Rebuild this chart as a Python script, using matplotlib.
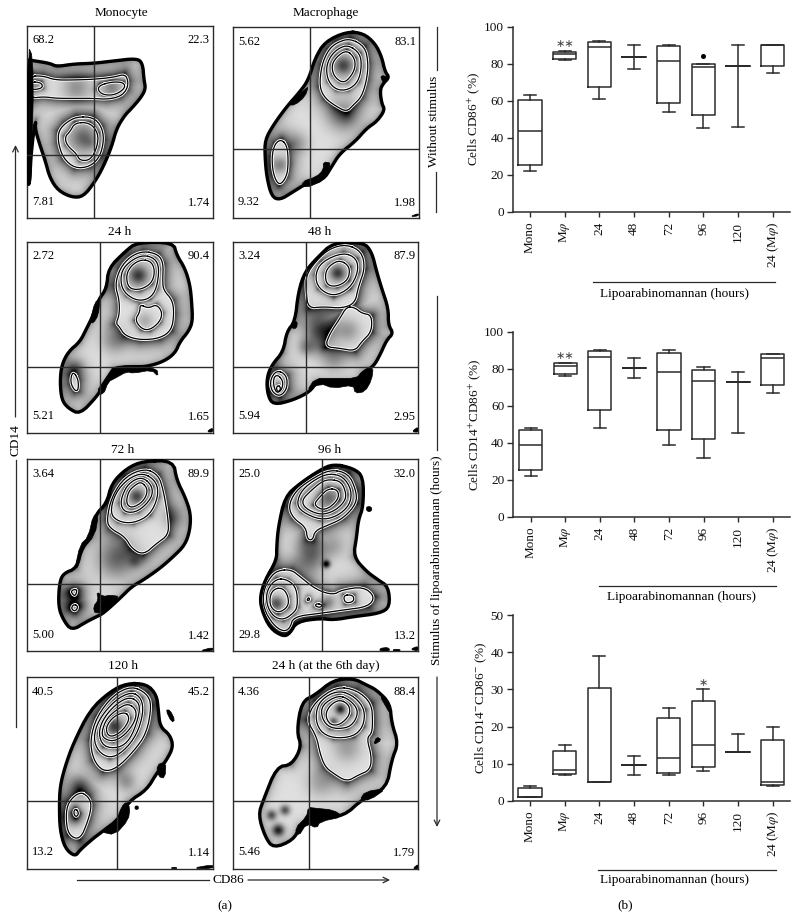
import numpy as np
import matplotlib
matplotlib.use('Agg')
import matplotlib.pyplot as plt
from matplotlib.path import Path
from matplotlib.patches import Polygon

plt.rcParams['font.family'] = ['Liberation Serif', 'DejaVu Serif']
plt.rcParams['mathtext.fontset'] = 'stix'

W, H = 799, 919
INK = '#2b2b2b'

# ---------- flow cytometry panels: values ----------
panel_titles = ['Monocyte', 'Macrophage', '24 h', '48 h', '72 h', '96 h', '120 h', '24 h (at the 6th day)']
panel_quadrants = [
    ['68.2', '22.3', '7.81', '1.74'], ['5.62', '83.1', '9.32', '1.98'],
    ['2.72', '90.4', '5.21', '1.65'], ['3.24', '87.9', '5.94', '2.95'],
    ['3.64', '89.9', '5.00', '1.42'], ['25.0', '32.0', '29.8', '13.2'],
    ['40.5', '45.2', '13.2', '1.14'], ['4.36', '88.4', '5.46', '1.79'],
]
# scan limits (x0, x1, y0, y1) and gate (x, y) of every panel
panel_limits = [(82, 638, 78, 655), (700, 1257, 82, 655), (82, 638, 50, 623), (700, 1255, 50, 623),
                (82, 638, 58, 633), (700, 1255, 58, 633), (82, 638, 52, 626), (700, 1255, 52, 626)]
panel_gates = [(283, 465), (931, 447), (301, 426), (917, 426), (301, 432), (967, 431), (351, 424), (928, 423)]

mono_contours = [
    [(84, 180), (100, 182), (150, 190), (170, 200), (220, 192), (280, 190), (340, 183), (410, 175), (428, 190),
     (432, 240), (437, 265), (425, 290), (395, 325), (375, 345), (350, 385), (335, 440), (310, 500), (285, 545),
     (250, 590), (215, 592), (175, 572), (150, 535), (135, 480), (118, 430), (105, 385), (108, 360), (100, 400),
     (92, 480), (90, 540), (84, 560)],
    [(90, 228), (130, 228), (165, 240), (220, 240), (280, 238), (340, 232), (375, 222), (385, 245), (380, 270),
     (360, 290), (320, 298), (280, 295), (220, 295), (170, 295), (130, 290), (90, 295)],
    [(92, 245), (125, 248), (128, 265), (92, 270)],
    [(300, 255), (340, 245), (372, 248), (375, 265), (345, 285), (310, 285), (293, 270)],
    [(230, 350), (280, 352), (305, 380), (312, 420), (300, 470), (270, 500), (225, 505), (190, 475), (175, 430),
     (175, 395), (195, 370)],
    [(225, 368), (270, 368), (295, 400), (292, 440), (272, 480), (240, 482), (230, 462), (200, 435), (195, 410),
     (210, 395)],
]
mono_black = [[(85, 140), (98, 170), (100, 330), (92, 470), (85, 470), (90, 330)],
              [(88, 480), (94, 500), (92, 550), (84, 560)]]
mono_spots = [(250, 415, 28, 0.42), (335, 265, 20, 0.3), (230, 265, 30, 0.3), (108, 258, 12, 0.2), (270, 430, 12, 0.1)]

macro_contours = [
    [(1040, 95), (1090, 100), (1125, 130), (1145, 170), (1155, 215), (1168, 232), (1150, 250), (1140, 270),
     (1145, 310), (1155, 330), (1130, 365), (1100, 385), (1065, 425), (1020, 460), (995, 500), (970, 540),
     (920, 550), (880, 575), (840, 600), (815, 590), (800, 530), (795, 470), (795, 420), (820, 375), (860, 320),
     (900, 275), (925, 240), (945, 175), (975, 125)],
    [(1050, 115), (1095, 140), (1105, 190), (1100, 240), (1085, 290), (1060, 315), (1040, 335), (1010, 320),
     (975, 295), (958, 260), (965, 195), (985, 150), (1010, 128)],
    [(1045, 135), (1080, 160), (1085, 200), (1075, 245), (1045, 270), (1010, 270), (985, 245), (978, 205),
     (990, 170), (1015, 145)],
    [(1040, 150), (1065, 175), (1065, 210), (1040, 245), (1020, 245), (1000, 225), (995, 195), (1010, 170)],
    [(845, 418), (862, 440), (865, 490), (860, 530), (838, 558), (820, 525), (815, 470), (825, 430)],
]
macro_black = [[(865, 315), (915, 268), (925, 260), (915, 290), (885, 315)],
               [(1140, 225), (1170, 232), (1150, 250)],
               [(970, 485), (995, 490), (975, 540), (915, 565), (905, 545), (950, 530), (970, 510)],
               [(1230, 650), (1255, 640), (1255, 648)]]
macro_spots = [(1030, 197, 20, 0.55), (840, 495, 18, 0.35), (1030, 345, 35, 0.35), (890, 430, 25, 0.2)]

h24_contours = [
    [(410, 52), (520, 52), (530, 90), (555, 130), (570, 180), (575, 230), (578, 290), (565, 320), (540, 350),
     (525, 385), (490, 410), (440, 425), (400, 425), (345, 430), (325, 465), (305, 490), (290, 515), (240, 568),
     (205, 550), (185, 525), (180, 470), (185, 420), (205, 380), (240, 350), (260, 310), (280, 270), (295, 225),
     (320, 190), (325, 130), (375, 80)],
    [(430, 78), (475, 88), (490, 115), (488, 165), (490, 195), (517, 225), (522, 265), (515, 315), (480, 340),
     (420, 345), (375, 332), (358, 305), (348, 295), (358, 270), (358, 225), (345, 180), (360, 130), (390, 95)],
    [(430, 90), (465, 100), (478, 130), (470, 190), (450, 220), (415, 228), (380, 210), (362, 180), (365, 135),
     (395, 105)],
    [(425, 103), (455, 110), (465, 140), (455, 175), (420, 195), (385, 190), (378, 150), (395, 120)],
    [(420, 238), (445, 250), (470, 238), (487, 262), (480, 290), (450, 315), (425, 312), (405, 285), (420, 260)],
    [(222, 442), (235, 465), (235, 495), (225, 498), (212, 475), (214, 450)],
]
h24_black = [[(285, 230), (300, 225), (295, 270), (280, 295), (270, 290)],
             [(340, 425), (400, 420), (470, 430), (475, 455), (455, 435), (400, 445), (380, 440), (345, 460),
              (325, 470), (310, 510), (290, 500), (310, 470), (330, 440)],
             [(620, 620), (638, 608), (638, 622)]]
h24_spots = [(415, 150, 20, 0.6), (435, 285, 18, 0.2), (225, 430, 22, 0.3), (340, 345, 28, 0.25)]

h48_contours = [
    [(1000, 52), (1090, 52), (1115, 80), (1130, 140), (1145, 190), (1165, 250), (1165, 300), (1180, 325),
     (1160, 345), (1140, 390), (1120, 425), (1090, 440), (1070, 470), (1000, 475), (950, 470), (930, 500),
     (880, 525), (820, 540), (803, 510), (800, 460), (815, 420), (850, 380), (860, 320), (885, 290), (895, 200),
     (915, 140), (950, 100)],
    [(1040, 58), (1085, 80), (1095, 130), (1075, 185), (1065, 235), (1025, 250), (970, 245), (925, 250), (918, 200),
     (918, 150), (950, 105), (990, 70)],
    [(1030, 82), (1070, 100), (1075, 140), (1050, 190), (1000, 215), (955, 190), (945, 150), (965, 110)],
    [(1020, 105), (1050, 125), (1045, 165), (1010, 185), (980, 180), (975, 145), (990, 120)],
    [(1040, 245), (1065, 248), (1085, 265), (1115, 270), (1115, 320), (1085, 350), (1065, 378), (1020, 370),
     (975, 365), (990, 325), (1020, 280)],
    [(830, 435), (860, 450), (862, 490), (840, 515), (815, 500), (810, 465)],
    [(835, 450), (850, 470), (845, 495), (830, 505), (820, 480), (822, 455)],
    [(835, 480), (843, 490), (835, 502), (828, 490)],
]
h48_black = [[(1085, 440), (1120, 425), (1115, 465), (1095, 500), (1065, 505), (1060, 480), (1000, 490), (960, 475),
              (920, 500), (945, 460), (1000, 460), (1070, 460)],
             [(880, 290), (892, 290), (890, 310), (875, 310)],
             [(1235, 620), (1255, 605), (1255, 622)]]
h48_spots = [(1012, 143, 16, 0.6), (960, 310, 35, 0.55), (1045, 315, 25, 0.25), (920, 365, 18, 0.3), (1000, 405, 25, 0.2)]

h72_contours = [
    [(430, 63), (520, 62), (530, 120), (555, 170), (572, 220), (570, 270), (555, 315), (520, 350), (480, 385),
     (430, 420), (395, 440), (360, 475), (310, 520), (290, 530), (260, 545), (215, 572), (190, 540), (175, 500),
     (178, 430), (190, 400), (230, 385), (245, 325), (275, 290), (285, 225), (320, 190), (335, 130), (380, 85)],
    [(435, 85), (475, 105), (490, 150), (505, 240), (505, 285), (470, 310), (430, 345), (395, 325), (375, 290),
     (330, 265), (320, 240), (335, 170), (375, 110)],
    [(430, 98), (470, 125), (475, 170), (450, 225), (400, 250), (355, 245), (330, 220), (345, 160), (385, 115)],
    [(430, 112), (458, 140), (455, 175), (415, 215), (375, 218), (360, 190), (375, 145), (400, 120)],
    [(425, 125), (445, 150), (430, 185), (395, 205), (378, 190), (385, 155), (405, 135)],
    [(222, 448), (232, 450), (225, 470), (212, 455)],
    [(222, 492), (235, 500), (225, 515), (213, 505)],
]
h72_black = [[(280, 225), (295, 225), (285, 285), (245, 330), (235, 380), (225, 385), (240, 315), (265, 290)],
             [(290, 455), (310, 470), (330, 465), (360, 470), (325, 510), (285, 522), (280, 500), (295, 480)],
             [(598, 633), (638, 622), (638, 633)]]
h72_spots = [(410, 170, 16, 0.55), (350, 355, 42, 0.45), (405, 365, 14, 0.25), (220, 480, 25, 0.45), (520, 230, 25, 0.25)]

h96_contours = [
    [(1000, 72), (1060, 85), (1090, 110), (1090, 200), (1075, 240), (1070, 290), (1060, 350), (1100, 395),
     (1135, 420), (1165, 440), (1170, 500), (1140, 520), (1060, 530), (1000, 540), (960, 535), (890, 545),
     (870, 580), (850, 590), (810, 565), (785, 510), (780, 470), (795, 420), (830, 360), (830, 320), (835, 260),
     (855, 170), (900, 130), (960, 90)],
    [(990, 88), (1045, 100), (1068, 150), (1070, 190), (1030, 235), (985, 255), (945, 272), (938, 300), (922, 298),
     (918, 262), (880, 235), (865, 200), (885, 155), (930, 120)],
    [(990, 100), (1030, 110), (1055, 150), (1050, 195), (1010, 230), (960, 240), (905, 215), (890, 190), (905, 150),
     (950, 115)],
    [(990, 118), (1025, 125), (1040, 165), (1030, 190), (1000, 215), (960, 225), (915, 205), (905, 180), (935, 150),
     (965, 125)],
    [(985, 145), (1015, 150), (1015, 180), (975, 213), (940, 195), (960, 170)],
    [(840, 390), (875, 390), (900, 410), (950, 450), (1000, 465), (1025, 450), (1090, 440), (1125, 470), (1105, 500),
     (1030, 510), (960, 520), (880, 530), (870, 565), (850, 575), (820, 555), (790, 505), (790, 450), (815, 405)],
    [(830, 415), (865, 420), (890, 445), (893, 500), (880, 520), (850, 540), (820, 530), (800, 495), (800, 450)],
    [(825, 445), (850, 445), (865, 470), (865, 500), (835, 520), (810, 500), (810, 465)],
    [(1030, 465), (1060, 465), (1062, 485), (1035, 490)],
    [(950, 490), (968, 495), (960, 503), (945, 498)],
    [(925, 472), (930, 480), (920, 482)],
]
h96_black = [[(1100, 200), (1113, 200), (1116, 210), (1108, 216), (1099, 211)],
             [(1140, 625), (1165, 622), (1170, 633), (1140, 633)], [(1180, 628), (1200, 628), (1200, 633), (1180, 633)],
             [(1230, 628), (1255, 618), (1255, 633)]]
h96_spots = [(830, 490, 16, 0.55), (985, 175, 22, 0.4), (978, 372, 8, 0.8), (930, 350, 32, 0.45), (985, 485, 16, 0.3),
             (1000, 320, 25, 0.2)]

h120_contours = [
    [(380, 70), (440, 72), (470, 105), (475, 150), (480, 200), (510, 225), (520, 260), (500, 300), (470, 340),
     (440, 390), (385, 425), (360, 475), (300, 520), (280, 535), (240, 570), (225, 590), (195, 565), (180, 510),
     (178, 440), (180, 380), (195, 320), (220, 250), (270, 150), (330, 95)],
    [(395, 78), (440, 100), (455, 135), (440, 220), (400, 275), (350, 325), (310, 335), (280, 300), (270, 240),
     (290, 170), (340, 105)],
    [(395, 95), (425, 115), (430, 160), (410, 225), (370, 275), (330, 295), (295, 275), (280, 235), (295, 180),
     (345, 120)],
    [(390, 110), (420, 130), (415, 175), (390, 240), (355, 265), (310, 260), (295, 220), (310, 175), (350, 130)],
    [(385, 130), (410, 150), (405, 185), (375, 225), (340, 245), (310, 235), (305, 215), (320, 175), (355, 145)],
    [(375, 155), (390, 175), (370, 210), (340, 230), (322, 225), (318, 200), (340, 170)],
    [(240, 395), (265, 410), (275, 435), (265, 480), (240, 540), (205, 525), (197, 470), (205, 425)],
    [(227, 445), (237, 460), (228, 472), (220, 458)],
]
h120_black = [[(497, 150), (510, 150), (525, 180), (515, 187)],
              [(470, 315), (498, 305), (495, 355), (475, 350)],
              [(380, 425), (390, 445), (385, 480), (345, 525), (300, 515), (350, 480), (365, 440)],
              [(405, 438), (415, 438), (415, 448), (405, 448)],
              [(575, 625), (638, 614), (638, 626)], [(515, 622), (530, 622), (530, 626), (515, 626)]]
h120_spots = [(345, 200, 18, 0.6), (380, 365, 20, 0.25), (225, 470, 20, 0.4), (240, 380, 28, 0.35)]

d6_contours = [
    [(1000, 60), (1060, 55), (1100, 75), (1130, 90), (1170, 130), (1175, 190), (1195, 250), (1175, 300), (1160, 385),
     (1090, 415), (1030, 470), (960, 470), (900, 500), (880, 540), (820, 565), (795, 530), (775, 465), (790, 420),
     (830, 320), (875, 315), (905, 260), (890, 215), (905, 125), (945, 105)],
    [(1010, 80), (1070, 90), (1115, 130), (1118, 190), (1115, 220), (1100, 235), (1115, 290), (1110, 330), (1075, 345),
     (1040, 365), (1000, 340), (975, 320), (960, 280), (950, 230), (920, 180), (945, 125)],
    [(1015, 90), (1065, 110), (1095, 150), (1090, 200), (1060, 230), (1000, 235), (960, 215), (945, 170), (960, 120)],
    [(1015, 105), (1050, 120), (1075, 150), (1065, 185), (1040, 205), (990, 205), (965, 175), (965, 135)],
    [(1020, 118), (1048, 135), (1050, 165), (1020, 195), (990, 195), (975, 165), (990, 135)],
]
d6_black = [[(925, 442), (950, 445), (1000, 450), (1030, 470), (960, 485), (950, 505), (920, 490), (895, 530),
             (885, 505), (920, 470)],
            [(1095, 395), (1160, 385), (1110, 420), (1080, 420)],
            [(1130, 230), (1145, 240), (1120, 255)],
            [(1135, 100), (1170, 135), (1175, 170)],
            [(1238, 626), (1255, 612), (1255, 626)]]
d6_spots = [(1020, 148, 11, 0.7), (1000, 185, 9, 0.45), (835, 510, 13, 0.75), (815, 465, 11, 0.55), (855, 450, 11, 0.55),
            (1040, 265, 30, 0.25), (960, 370, 30, 0.2)]

panel_contours = [mono_contours, macro_contours, h24_contours, h48_contours,
                  h72_contours, h96_contours, h120_contours, d6_contours]
panel_black = [mono_black, macro_black, h24_black, h48_black, h72_black, h96_black, h120_black, d6_black]
panel_spots = [mono_spots, macro_spots, h24_spots, h48_spots, h72_spots, h96_spots, h120_spots, d6_spots]

# ---------- box plots ----------
box_labels = ['Mono', r'M$\varphi$', '24', '48', '72', '96', '120', r'24 (M$\varphi$)']

cd86_low = [22, 82, 61, 77, 54, 45, 46, 75]
cd86_q1 = [25, 82.5, 67.5, 83.5, 59, 52.5, 79, 78.5]
cd86_med = [43.5, 85.5, 89, 83.5, 81.5, 78, 79, 90]
cd86_q3 = [60.5, 86.5, 91.7, 83.5, 89.8, 80, 79, 90]
cd86_high = [63, 87, 92, 90, 90, 80, 90, 90]

dbl_low = [22, 76, 48, 75, 39, 32, 45, 67]
dbl_q1 = [25, 77, 57.5, 80.5, 47, 42, 73, 71]
dbl_med = [38.5, 81.5, 86.5, 80.5, 78, 73.5, 73, 86]
dbl_q3 = [47, 83, 89.5, 80.5, 88.5, 79.5, 73, 88]
dbl_high = [48, 83, 90, 86, 90, 81, 78, 88]

neg_low = [1, 7, 5, 7, 7, 8, 13, 4]
neg_q1 = [1, 7.2, 5, 9.5, 7.5, 9, 13, 4.2]
neg_med = [1, 8.4, 5, 9.5, 11.5, 15, 13, 5]
neg_q3 = [3.3, 13.5, 30.5, 9.5, 22.3, 27, 13, 16.3]
neg_high = [4, 15, 39, 12, 25, 30, 18, 20]

cd86_outlier = 84  # dot above the 96 h box


def chaikin(pts, rounds=2):
    p = np.asarray(pts, dtype=float)
    for _ in range(rounds):
        q = np.roll(p, -1, axis=0)
        p = np.column_stack([0.75*p + 0.25*q, 0.25*p + 0.75*q]).reshape(-1, 2)
    return p


def seg_distance(px, py, poly):
    # shortest distance from the points to a closed polygon
    a = np.asarray(poly, dtype=float)
    b = np.roll(a, -1, axis=0)
    best = np.full(px.shape, np.inf)
    for (ax_, ay_), (bx_, by_) in zip(a, b):
        dx, dy = bx_ - ax_, by_ - ay_
        t = np.clip(((px - ax_)*dx + (py - ay_)*dy) / (dx*dx + dy*dy + 1e-9), 0, 1)
        best = np.minimum(best, np.hypot(px - ax_ - t*dx, py - ay_ - t*dy))
    return best


def draw_flow(ax, limits, gate, contours, black, spots):
    x0, x1, y0, y1 = limits
    gx, gy = np.meshgrid(np.arange(x0, x1 + 1, 2.0), np.arange(y0, y1 + 1, 2.0))
    pts = np.column_stack([gx.ravel(), gy.ravel()])
    smooth = [chaikin(c) for c in contours]
    paths = [Path(s) for s in smooth]

    depth_map = np.zeros(gx.shape, dtype=int)
    for p in paths:
        depth_map += p.contains_points(pts).reshape(gx.shape)
    # nesting level of a contour: how many others hold its first vertex
    levels = [1 + sum(p.contains_point(s[0]) for j, p in enumerate(paths) if j != i)
              for i, s in enumerate(smooth)]

    shade = np.ones(gx.shape)
    for k in range(1, max(levels) + 1):
        mask = depth_map == k
        shade[mask] = 0.82
        kids = [c for c, lv in zip(contours, levels) if lv == k + 1]
        if kids and mask.any():
            d = np.min([seg_distance(gx[mask], gy[mask], c) for c in kids], axis=0)
            scale = 20 if k == 1 else 8
            shade[mask] = 0.88 - 0.72*np.exp(-d/scale)
    inside = depth_map >= 1
    if inside.any():
        d = seg_distance(gx[inside], gy[inside], contours[0])
        shade[inside] -= 0.4*np.exp(-d/12)
        for sx, sy, r, s in spots:
            shade[inside] -= s*np.exp(-((gx[inside] - sx)**2 + (gy[inside] - sy)**2) / (2*r*r))
    shade = np.clip(shade, 0, 1)

    ax.imshow(shade, cmap='gray', vmin=0, vmax=1, extent=(x0 - 1, x1 + 1, y1 + 1, y0 - 1),
              interpolation='bilinear', aspect='auto', zorder=1)
    for i, s in enumerate(smooth):
        closed = np.vstack([s, s[:1]])
        if i > 0:
            ax.plot(closed[:, 0], closed[:, 1], color='white', lw=2.2, zorder=2)
        ax.plot(closed[:, 0], closed[:, 1], color='k', lw=2.4 if i == 0 else 0.9, zorder=3)
    for b in black:
        ax.add_patch(Polygon(chaikin(b, 1), closed=True, fc='k', ec='k', lw=0.5, zorder=3))
    ax.axvline(gate[0], color=INK, lw=1.0, zorder=4)
    ax.axhline(gate[1], color=INK, lw=1.0, zorder=4)
    ax.set_xlim(x0, x1)
    ax.set_ylim(y1, y0)
    ax.set_xticks([])
    ax.set_yticks([])
    for sp in ax.spines.values():
        sp.set_color(INK)
        sp.set_linewidth(1.0)


def draw_box(ax, low, q1, med, q3, high, ymax, step, ylabel):
    stats = []
    for i in range(len(box_labels)):
        stats.append(dict(whislo=low[i], q1=q1[i], med=med[i], q3=q3[i], whishi=high[i], fliers=[]))
    style = dict(color=INK, linewidth=1.1)
    parts = ax.bxp(stats, positions=np.arange(1, 9), widths=0.67, capwidths=0.35, showfliers=False,
                   boxprops=style, medianprops=style, whiskerprops=style, capprops=style)
    # a collapsed box already draws the median line once
    for i, line in enumerate(parts['medians']):
        if q1[i] == q3[i]:
            line.set_visible(False)
    ax.set_xlim(0.5, 8.5)
    ax.set_ylim(0, ymax)
    ax.set_yticks(np.arange(0, ymax + 1, step))
    ax.set_xticks(np.arange(1, 9))
    ax.set_xticklabels(box_labels, rotation=90, fontsize=9.5)
    ax.tick_params(axis='y', labelsize=9.5, length=4.3, width=1, color=INK, labelcolor='#111111', pad=2.2)
    ax.tick_params(axis='x', labelsize=9.5, length=3.6, width=1, color=INK, labelcolor='#111111', pad=3.5)
    ax.set_ylabel(ylabel, fontsize=9.5, color='#111111', labelpad=1)
    ax.spines['top'].set_visible(False)
    ax.spines['right'].set_visible(False)
    ax.spines['left'].set_color(INK)
    ax.spines['bottom'].set_color(INK)
    ax.spines['left'].set_linewidth(1.1)
    ax.spines['bottom'].set_linewidth(1.1)


def px_axes(fig, left, right, top, bottom):
    return fig.add_axes([left/W, 1 - bottom/H, (right - left)/W, (bottom - top)/H])


fig = plt.figure(figsize=(W/100, H/100), dpi=100, facecolor='white')

# overlay in pixel coordinates for the arrows, captions and side labels
bg = fig.add_axes([0, 0, 1, 1], zorder=5)
bg.set_xlim(0, W)
bg.set_ylim(H, 0)
bg.axis('off')
bg.patch.set_alpha(0)

offsets = [0, 0, 225, 225, 440, 440, 660, 660]
title_xy = [(121, 13), (326, 13), (120, 232), (320, 232), (123, 450), (330, 450), (123, 666), (326, 666)]

for i in range(8):
    x0, x1, y0, y1 = panel_limits[i]
    ax = px_axes(fig, x0/3, x1/3, offsets[i] + y0/3, offsets[i] + y1/3)
    draw_flow(ax, panel_limits[i], panel_gates[i], panel_contours[i], panel_black[i], panel_spots[i])
    tl, tr, bl, br = panel_quadrants[i]
    ax.text(0.085, 0.925, tl, transform=ax.transAxes, ha='center', va='center', fontsize=9, zorder=6)
    ax.text(0.925, 0.925, tr, transform=ax.transAxes, ha='center', va='center', fontsize=9, zorder=6)
    ax.text(0.085, 0.085, bl, transform=ax.transAxes, ha='center', va='center', fontsize=9, zorder=6)
    ax.text(0.925, 0.08, br, transform=ax.transAxes, ha='center', va='center', fontsize=9, zorder=6)
    bg.text(title_xy[i][0], title_xy[i][1], panel_titles[i], ha='center', va='center', fontsize=9.5)

# CD14 axis
bg.annotate('', xy=(15.5, 145), xytext=(15.5, 417), arrowprops=dict(arrowstyle='->', color=INK, lw=0.9, shrinkA=0, shrinkB=0))
bg.plot([15.5, 15.5], [460, 727], color=INK, lw=0.9)
bg.text(15.5, 440, 'CD14', rotation=90, ha='center', va='center', fontsize=9.5)
# CD86 axis
bg.plot([77, 209], [880, 880], color=INK, lw=0.9)
bg.annotate('', xy=(390, 880), xytext=(248, 880), arrowprops=dict(arrowstyle='->', color=INK, lw=0.9, shrinkA=0, shrinkB=0))
bg.text(228.5, 880, 'CD86', ha='center', va='center', fontsize=9.5)
# side labels
bg.plot([436.5, 436.5], [27, 70], color=INK, lw=0.9)
bg.plot([435.5, 435.5], [172, 212], color=INK, lw=0.9)
bg.text(434, 121, 'Without stimulus', rotation=90, ha='center', va='center', fontsize=9.5)
bg.plot([437, 437], [296, 450], color=INK, lw=0.9)
bg.annotate('', xy=(437, 827), xytext=(437, 677), arrowprops=dict(arrowstyle='->', color=INK, lw=0.9, shrinkA=0, shrinkB=0))
bg.text(437, 560, 'Stimulus of lipoarabinomannan (hours)', rotation=90, ha='center', va='center', fontsize=9.5)
bg.text(225, 906, '(a)', ha='center', va='center', fontsize=9.5)
bg.text(625, 905, '(b)', ha='center', va='center', fontsize=9.5)

# box plots
ax1 = px_axes(fig, 512.7, 790, 26.7, 211.7)
draw_box(ax1, cd86_low, cd86_q1, cd86_med, cd86_q3, cd86_high, 100, 20, r'Cells CD86$^{+}$ (%)')
ax1.plot([6], [cd86_outlier], 'o', color='k', ms=2.6)
ax1.text(2, 90.5, '∗∗', ha='center', va='center', fontsize=8, color='#444444', family=['DejaVu Sans'])

ax2 = px_axes(fig, 513.3, 790, 331.7, 516.7)
draw_box(ax2, dbl_low, dbl_q1, dbl_med, dbl_q3, dbl_high, 100, 20, r'Cells CD14$^{+}$CD86$^{+}$ (%)')
ax2.text(2, 87, '∗∗', ha='center', va='center', fontsize=8, color='#444444', family=['DejaVu Sans'])

ax3 = px_axes(fig, 512.7, 790, 615.3, 800.7)
draw_box(ax3, neg_low, neg_q1, neg_med, neg_q3, neg_high, 50, 10, r'Cells CD14$^{-}$CD86$^{-}$ (%)')
ax3.text(6, 31.8, '∗', ha='center', va='center', fontsize=8, color='#444444', family=['DejaVu Sans'])

bars = [(592.7, 775, 281.7, 674, 294), (599, 776, 585.7, 681.7, 597), (598, 776, 870, 674, 879.5)]
for xa, xb, yb, xt, yt in bars:
    bg.plot([xa, xb], [yb, yb], color=INK, lw=0.9)
    bg.text(xt, yt, 'Lipoarabinomannan (hours)', ha='center', va='center', fontsize=9.5)

bg.set_xlim(0, W)
bg.set_ylim(H, 0)
fig.savefig('out.png', dpi=100)
